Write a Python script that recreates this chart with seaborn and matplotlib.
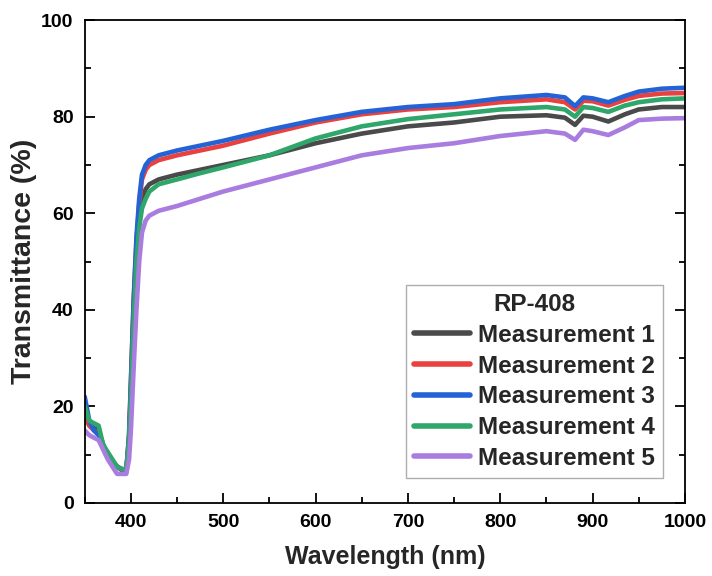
import pandas as pd
import matplotlib
matplotlib.use('Agg')
import matplotlib.pyplot as plt
from matplotlib.ticker import MultipleLocator
import seaborn as sns

wavelength = [350, 355, 360, 365, 370, 375, 380, 385, 390, 395, 398, 400, 403, 406, 409,
              412, 416, 420, 430, 450, 475, 500, 550, 600, 650, 700, 750, 800, 850, 870,
              881, 890, 900, 917, 935, 950, 975, 1000]

meas_1 = [18, 16, 15.5, 15, 12, 10, 8.5, 7.5, 6.8, 6.5, 13, 23, 40, 52, 59,
          63, 65, 66, 67, 68, 69, 70, 72, 74.5, 76.5, 78, 78.8, 80, 80.3, 79.8,
          78.3, 80.2, 80, 79, 80.5, 81.5, 82, 82]
meas_2 = [19, 16, 15, 14.5, 12, 10, 8.5, 7.5, 7, 6.5, 14, 25, 42, 54, 62,
          67, 69, 70, 71, 72, 73, 74, 76.5, 78.8, 80.5, 81.5, 82, 83, 83.6, 83,
          81.5, 83.3, 83.2, 82.3, 83.5, 84.3, 84.8, 84.9]
meas_3 = [22, 17, 15, 14, 12, 10, 8.5, 7.5, 7, 6.5, 14, 25, 42, 55, 63,
          68, 70, 71, 72, 73, 74, 75, 77.3, 79.3, 81, 82, 82.6, 83.8, 84.5, 84,
          82.2, 84, 83.8, 83, 84.3, 85.2, 85.8, 86]
meas_4 = [20, 17, 16.5, 16, 12, 10.5, 9, 7.5, 7, 7, 13, 22, 38, 50, 57,
          61, 63, 64.5, 66, 67, 68.3, 69.5, 72, 75.5, 78, 79.5, 80.5, 81.5, 82, 81.5,
          80, 82, 81.8, 81, 82.3, 83, 83.6, 83.8]
meas_5 = [15, 14, 13.5, 13, 11, 9, 7.5, 6, 6, 6, 9, 15, 28, 40, 50,
          56, 58.5, 59.5, 60.5, 61.5, 63, 64.5, 67, 69.5, 72, 73.5, 74.5, 76, 77, 76.5,
          75.2, 77.3, 77, 76.2, 77.8, 79.3, 79.6, 79.7]

labels = ['Measurement 1', 'Measurement 2', 'Measurement 3', 'Measurement 4', 'Measurement 5']
colores = ['#4a4a4a', '#e8413f', '#2463d6', '#2fa66a', '#a97ddf']

frames = []
for lab, vals in zip(labels, [meas_1, meas_2, meas_3, meas_4, meas_5]):
    frames.append(pd.DataFrame({'Wavelength': wavelength, 'T': vals, 'Serie': lab}))
df = pd.concat(frames, ignore_index=True)

sns.set_style('ticks')
plt.rcParams['font.family'] = ['Liberation Sans', 'DejaVu Sans']
plt.rcParams['font.weight'] = 'bold'

fig = plt.figure(figsize=(7.12, 5.76), dpi=100)
ax = fig.add_axes([0.119, 0.127, 0.843, 0.838])

sns.lineplot(data=df, x='Wavelength', y='T', hue='Serie', palette=colores,
             linewidth=3.3, ax=ax, sort=False)

ax.set_xlim(350, 1000)
ax.set_ylim(0, 100)
ax.xaxis.set_major_locator(MultipleLocator(100))
ax.xaxis.set_minor_locator(MultipleLocator(50))
ax.yaxis.set_major_locator(MultipleLocator(20))
ax.yaxis.set_minor_locator(MultipleLocator(10))
ax.tick_params(which='both', direction='in', right=True, top=False, width=1.3, colors='black')
ax.tick_params(which='major', length=7, labelsize=14, pad=8)
ax.tick_params(which='minor', length=4)
for t in ax.get_xticklabels() + ax.get_yticklabels():
    t.set_fontweight('bold')
for s in ax.spines.values():
    s.set_linewidth(1.3)
    s.set_color('black')

ax.set_xlabel('Wavelength (nm)', fontsize=18, fontweight='bold', labelpad=10)
ax.set_ylabel('Transmittance (%)', fontsize=20.5, fontweight='bold', labelpad=3)

leg = ax.legend(title='RP-408', loc='lower right', bbox_to_anchor=(0.963, 0.052),
                fontsize=17.5, title_fontsize=17.5, handlelength=2.3, handletextpad=0.35,
                labelspacing=0.32, borderpad=0.32, borderaxespad=0, fancybox=False, frameon=True)
leg.get_title().set_fontweight('bold')
for t in leg.get_texts():
    t.set_fontweight('bold')
leg.get_frame().set_edgecolor('#999999')
leg.get_frame().set_linewidth(1.0)
for h in leg.get_lines():
    h.set_linewidth(4)

fig.savefig('out.png', dpi=100)
